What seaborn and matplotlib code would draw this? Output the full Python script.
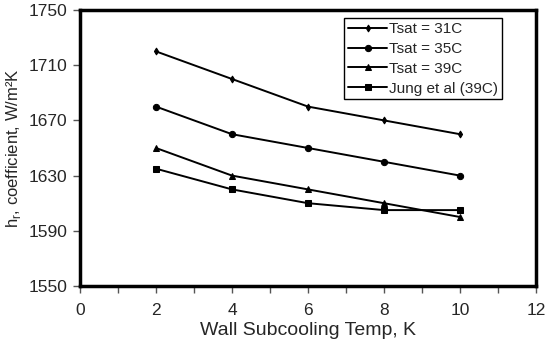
import pandas as pd
import matplotlib
matplotlib.use("Agg")
import matplotlib.pyplot as plt
import seaborn as sns
from matplotlib.ticker import MultipleLocator

subcool = [2, 4, 6, 8, 10]
tsat31 = [1720, 1700, 1680, 1670, 1660]
tsat35 = [1680, 1660, 1650, 1640, 1630]
tsat39 = [1650, 1630, 1620, 1610, 1600]
jung39 = [1635, 1620, 1610, 1605, 1605]
labels = ["Tsat = 31C", "Tsat = 35C", "Tsat = 39C", "Jung et al (39C)"]
yticks = [1550, 1590, 1630, 1670, 1710, 1750]

sns.set_style("ticks")
plt.rcParams['font.family'] = ['Liberation Sans', 'DejaVu Sans']
plt.rcParams['mathtext.fontset'] = 'custom'
plt.rcParams['mathtext.rm'] = 'Liberation Sans'

fig = plt.figure(figsize=(5.5, 3.46), dpi=100)
ax = fig.add_axes([80 / 550, 60 / 346, 456 / 550, 276 / 346])

series = [tsat31, tsat35, tsat39, jung39]
markers = ["d", "o", "^", "s"]
msizes = [3.5, 4.5, 4.5, 4.5]
for vals, lab, m, ms in zip(series, labels, markers, msizes):
    sns.lineplot(x=subcool, y=vals, ax=ax, color="black", lw=1.4,
                 marker=m, markersize=ms, markeredgecolor="black", label=lab)

ax.set_xlim(0, 12)
ax.set_ylim(1550, 1750)
ax.xaxis.set_major_locator(MultipleLocator(2))
ax.xaxis.set_minor_locator(MultipleLocator(1))
ax.set_yticks(yticks)
ax.tick_params(axis="both", which="both", direction="out", length=5, width=1,
               color="#555555", labelsize=12.5, pad=4)
ax.tick_params(axis="x", pad=7)
for s in ax.spines.values():
    s.set_linewidth(2.5)
    s.set_color("black")
    s.set_visible(True)

ax.set_xlabel("Wall Subcooling Temp, K", fontsize=14, labelpad=3)
ax.set_ylabel("h$_\\mathregular{r}$, coefficient, W/m²K", fontsize=12, labelpad=4)

leg = ax.legend(loc="upper right", bbox_to_anchor=(0.925, 0.97), fontsize=11,
                frameon=True, fancybox=False, edgecolor="black", framealpha=1,
                borderpad=0.25, labelspacing=0.38, handlelength=2.6,
                handletextpad=0.1, borderaxespad=0)
leg.get_frame().set_linewidth(1)

fig.savefig("out.png", dpi=100)
